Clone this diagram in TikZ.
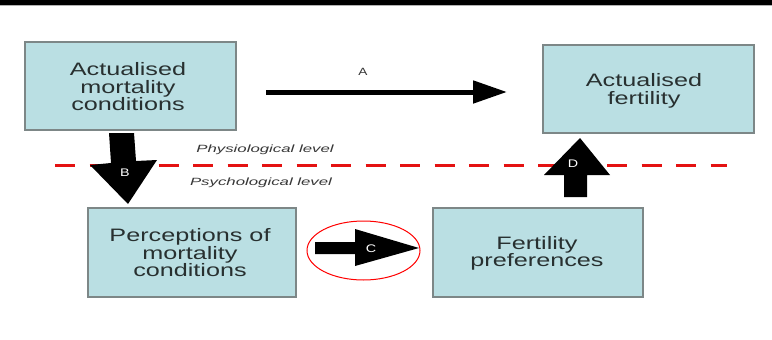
\documentclass[tikz,border=0pt]{standalone}
\usepackage{fontspec}
\setmainfont{Liberation Sans}
\usetikzlibrary{arrows.meta}
\definecolor{boxfill}{RGB}{186,223,227}
\definecolor{boxline}{RGB}{125,135,135}
\definecolor{boxtext}{RGB}{40,48,48}
\definecolor{dashred}{RGB}{228,18,18}
\definecolor{lvltext}{RGB}{55,55,55}
\begin{document}
\begin{tikzpicture}[x=1pt,y=-1pt,
  box/.style={draw=boxline, line width=1.3pt, fill=boxfill, inner sep=0pt},
  boxlabel/.style={align=center, text=boxtext, inner sep=0pt, font=\fontsize{18}{17.5}\selectfont, xscale=1.4},
  lvl/.style={font=\itshape\fontsize{10.5}{12}\selectfont, text=lvltext, inner sep=0pt, xscale=1.6},
  blockarrow/.style={fill=black},
  arrowlabel/.style={text=white, inner sep=0pt, font=\fontsize{11}{12}\selectfont, xscale=1.3},
  levelline/.style={draw=dashred, line width=3pt, dash pattern=on 20pt off 14.5pt}
]
\path[use as bounding box, fill=white] (0,0) rectangle (772,340);
% top bar
\fill[black] (0,0) rectangle (772,5);
\draw[gray!60, line width=0.8pt] (0,5.6) -- (772,5.6);

% boxes
\node[box, minimum width=211pt, minimum height=88pt] (amc) at (130.5,86) {};
\node[box, minimum width=211pt, minimum height=88pt] (af) at (648.5,89) {};
\node[box, minimum width=208pt, minimum height=89pt] (pmc) at (192,252.5) {};
\node[box, minimum width=210pt, minimum height=89pt] (fp) at (538,252.5) {};

\node[boxlabel] (amct) at (128,87) {Actualised\\mortality\\conditions};
\node[boxlabel] (aft) at (644,91) {Actualised\\fertility};
\node[boxlabel] (pmct) at (190,253) {Perceptions of\\mortality\\conditions};
\node[boxlabel] (fpt) at (537,253.5) {Fertility\\preferences};

% dashed level line
\coordinate (lvlL) at (55,165);
\coordinate (lvlR) at (727,165);
\draw[levelline] (lvlL) -- (lvlR);
\node[lvl] (phys) at (265,150) {Physiological level};
\node[lvl] (psych) at (261,182.5) {Psychological level};

% arrow A
\coordinate (aS) at (266,92);
\coordinate (aE) at (507,92);
\draw[line width=5pt, -{Triangle[length=34pt,width=22pt]}] (aS) -- (aE);
\node[text=lvltext, inner sep=0pt, font=\fontsize{10.5}{12}\selectfont, xscale=1.3] (la) at (363,72) {A};

% arrow B
\fill[blockarrow] (109,133) -- (134,133) -- (136,161) -- (157,160) -- (128,204) -- (90,165) -- (111,163) -- cycle;
\node[arrowlabel] (lb) at (125,173) {B};

% arrow C
\fill[blockarrow] (315,242) -- (355,242) -- (355,229) -- (419,248) -- (355,266) -- (355,254) -- (315,254) -- cycle;
\node[arrowlabel] (lc) at (371,249) {C};
\draw[red, line width=1pt] (363.5,250.5) ellipse [x radius=56.5pt, y radius=29.5pt];

% arrow D
\fill[blockarrow] (564,197) -- (587,197) -- (587,175) -- (610,175) -- (580,138) -- (544,175) -- (564,175) -- cycle;
\node[arrowlabel] (ld) at (573,164) {D};
\end{tikzpicture}
\end{document}
